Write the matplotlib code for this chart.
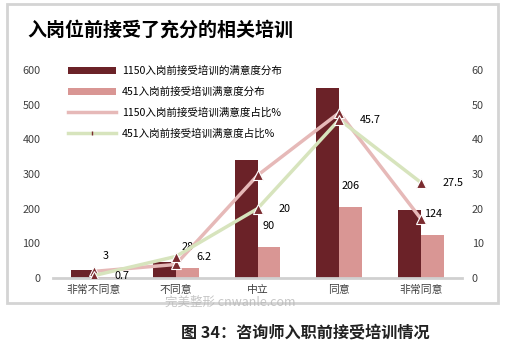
import matplotlib
matplotlib.use("Agg")
import matplotlib.pyplot as plt
from matplotlib.patches import Rectangle
from matplotlib.lines import Line2D
import numpy as np

plt.rcParams['font.family'] = ['Noto Sans CJK SC', 'DejaVu Sans']

# data
categories = ['非常不同意', '不同意', '中立', '同意', '非常同意']
dist_1150 = [22, 45, 340, 548, 195]
dist_451 = [3, 28, 90, 206, 124]
pct_1150 = [1.9, 3.9, 29.6, 47.7, 17.0]
pct_451 = [0.7, 6.2, 20, 45.7, 27.5]

names = ['1150入岗前接受培训的满意度分布', '451入岗前接受培训满意度分布',
         '1150入岗前接受培训满意度占比%', '451入岗前接受培训满意度占比%']

c_dark = '#6b2228'
c_pink = '#d99694'
c_line1 = '#e6b9b8'
c_line2 = '#d7e4bd'
c_mark = '#7b2c30'
c_text = '#404040'

W, H = 505, 351
fig = plt.figure(figsize=(W / 100, H / 100), dpi=100)

# outer gray frame
fig.patches.append(Rectangle((7 / W, 1 - 303 / H), 491 / W, 299 / H,
                             transform=fig.transFigure, fill=False,
                             edgecolor='#d4d4d4', linewidth=2))

ax = fig.add_axes([53 / W, 1 - 278 / H, 409 / W, 208 / H])
ax2 = ax.twinx()

x = np.arange(len(categories))
bw = 0.28
b1 = ax.bar(x - bw / 2, dist_1150, bw, color=c_dark, zorder=2)
b2 = ax.bar(x + bw / 2, dist_451, bw, color=c_pink, zorder=2)

ax2.plot(x, pct_1150, color=c_line1, lw=2.5, marker='^', ms=6.5,
         mfc=c_mark, mec='white', mew=0.8, zorder=3)
ax2.plot(x, pct_451, color=c_line2, lw=2.5, marker='^', ms=6.5,
         mfc=c_mark, mec='white', mew=0.8, zorder=3)

ax.set_xlim(-0.5, len(categories) - 0.5)
ax.set_ylim(0, 600)
ax2.set_ylim(0, 60)
ax.set_yticks(range(0, 601, 100))
ax2.set_yticks(range(0, 61, 10))
ax.set_xticks(x)
ax.set_xticklabels(categories)

for a in (ax, ax2):
    for s in a.spines.values():
        s.set_visible(False)
    a.tick_params(length=0, labelsize=7.8, colors=c_text)
ax.spines['bottom'].set_visible(True)
ax.spines['bottom'].set_color('#d0d0d0')
ax.spines['bottom'].set_linewidth(2)
ax.tick_params(axis='y', pad=9)
ax2.tick_params(axis='y', pad=7)
ax.tick_params(axis='x', pad=5)

ax2.set_zorder(ax.get_zorder() + 1)
ax2.patch.set_visible(False)

# value labels for the 451 series
for i, v in enumerate(dist_451):
    ax.annotate(str(v), (x[i] + bw / 2, v), xytext=(0, 21),
                textcoords='offset pixels', ha='center', va='center',
                fontsize=7.8, color='black', zorder=5)
for i, v in enumerate(pct_451):
    ax2.annotate(f'{v:g}', (x[i], v), xytext=(21, 0),
                 textcoords='offset pixels', ha='left', va='center',
                 fontsize=7.8, color='black', zorder=5)

handles = [b1, b2,
           Line2D([], [], color=c_line1, lw=2.5),
           Line2D([], [], color=c_line2, lw=2.5, marker='|', ms=3,
                  mec=c_mark)]
ax.legend(handles, names, loc='upper left',
          bbox_to_anchor=(68 / W, 1 - 66 / H), bbox_transform=fig.transFigure,
          frameon=False, fontsize=7.6, handlelength=4.5, handletextpad=0.6,
          labelspacing=0.98, borderpad=0, borderaxespad=0)

fig.text(27 / W, 1 - 30 / H, '入岗位前接受了充分的相关培训', fontsize=13.7,
         fontweight='bold', ha='left', va='center', color='black')

fig.text(230 / W, 1 - 302 / H, '完美整形 cnwanle.com', fontsize=9,
         ha='center', va='center', color='#b8b8b8', alpha=0.8, zorder=10)

fig.text(305 / W, 1 - 333 / H, '图 34：咨询师入职前接受培训情况', fontsize=11.6,
         fontweight='bold', ha='center', va='center', color='#222222')

fig.savefig('out.png', dpi=100)
